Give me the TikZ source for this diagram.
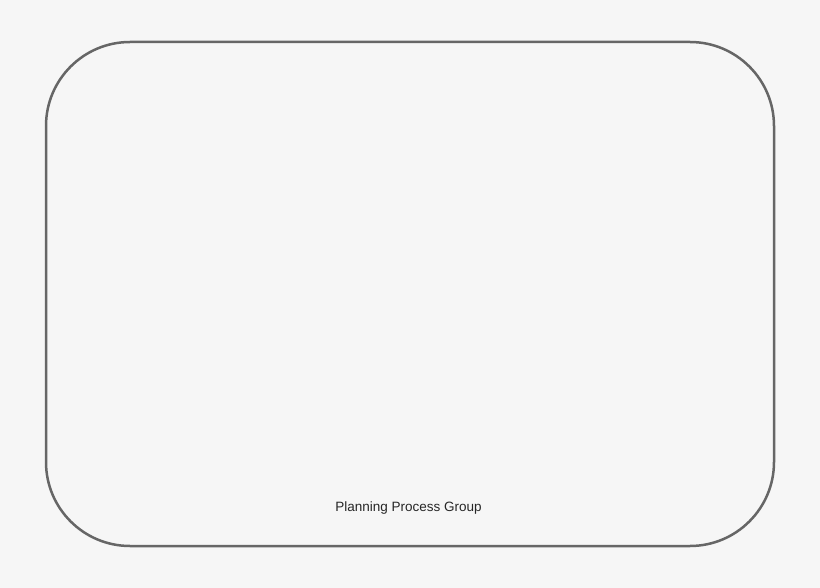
\documentclass[tikz,border=0pt]{standalone}
\usepackage{fontspec}
\setmainfont{Liberation Sans}
\definecolor{bg}{HTML}{F6F6F6}
\definecolor{frame}{HTML}{666666}
\begin{document}
\begin{tikzpicture}[x=1pt,y=-1pt,
  groupbox/.style={draw=frame,line width=2.5pt,rounded corners=84pt},
  grouplabel/.style={font=\fontsize{13.5}{15}\selectfont,text=black!85,inner sep=0pt}]
\fill[bg] (0,0) rectangle (820,588);
\useasboundingbox (0,0) rectangle (820,588);
\draw[groupbox] (46,42) rectangle (774,546);
\node[grouplabel] (lbl) at (408.5,508.5) {Planning Process Group};
\end{tikzpicture}
\end{document}
